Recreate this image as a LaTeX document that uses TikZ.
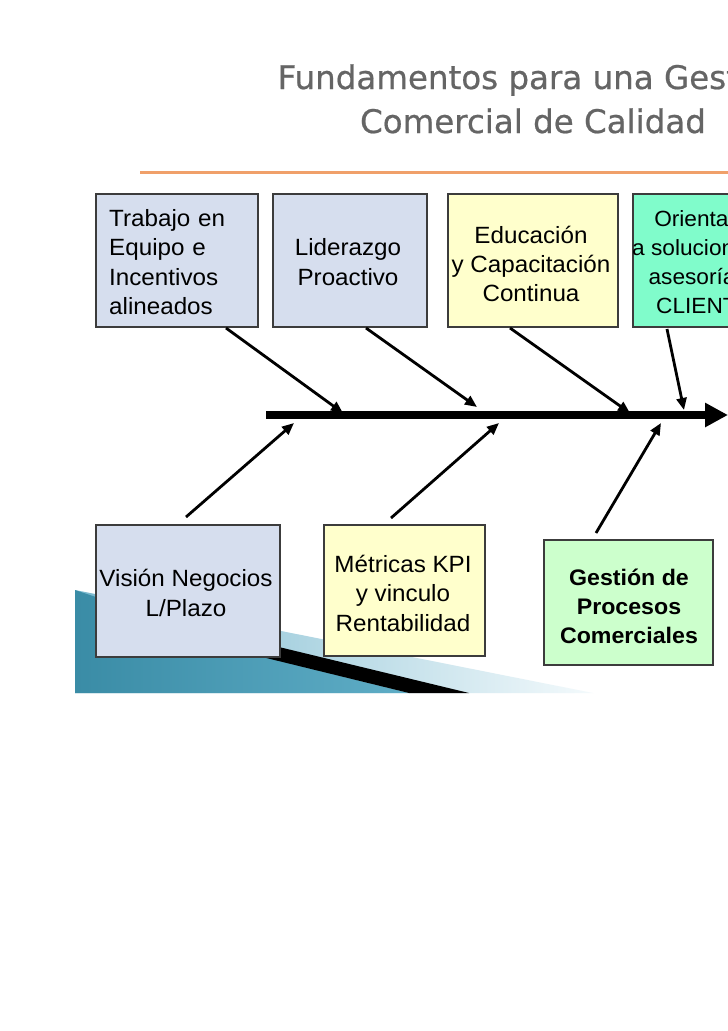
\documentclass[tikz,border=0pt]{standalone}
\usepackage{fontspec}
\setmainfont{Liberation Sans}
\newfontfamily\boxfont[FakeStretch=1.03]{Liberation Sans}
\newfontfamily\titlefont[FakeBold=0.6]{DejaVu Sans}
\usetikzlibrary{arrows.meta}
\definecolor{boxblue}{HTML}{D6DEEE}
\definecolor{boxyellow}{HTML}{FFFFCC}
\definecolor{boxaqua}{HTML}{80FCCB}
\definecolor{boxgreen}{HTML}{CCFFCC}
\definecolor{boxline}{HTML}{3C3C3C}
\definecolor{titlegray}{HTML}{656565}
\definecolor{ruleorange}{HTML}{F0A06A}
\definecolor{tealdark}{HTML}{3A8CA6}
\definecolor{tealmid}{HTML}{5FADC6}
\definecolor{teallight}{HTML}{78B8CE}
\definecolor{tealpale}{HTML}{F4FAFC}
\begin{document}
\begin{tikzpicture}[x=1pt,y=-1pt,
  box/.style={draw=boxline, line width=1.1pt, inner sep=0pt},
  toptext/.style={inner sep=0pt, font=\boxfont\fontsize{23.5}{29.2}\selectfont},
  bottext/.style={inner sep=0pt, font=\boxfont\fontsize{23.5}{29.5}\selectfont},
  conn/.style={line width=2.8pt, -{Triangle[length=12pt,width=10pt]}},
  titletext/.style={inner sep=0pt, text=titlegray, font=\titlefont\fontsize{32.5}{41}\selectfont}
]
\useasboundingbox (0,0) rectangle (728,1031);
\clip (0,0) rectangle (728,1031);
\fill[white] (0,0) rectangle (728,1031);

% title
\node[titletext, anchor=base] (title1) at (533,89) {Fundamentos para una Gestión};
\node[titletext, anchor=base] (title2) at (533,133) {Comercial de Calidad};
\coordinate (rule1) at (140,172.5);
\coordinate (rule2) at (740,172.5);
\draw[ruleorange, line width=2.2pt] (rule1) -- (rule2);

% background sweep
\shade[left color=teallight, right color=tealpale] (75,590) -- (593,693) -- (75,693) -- cycle;
\shade[left color=tealdark, right color=tealmid] (75,590) -- (96,597) -- (280,661) -- (409,693) -- (75,693) -- cycle;
\fill[black] (250,640) -- (469,693) -- (409,693) -- (250,654) -- cycle;

% top boxes
\node[box, fill=boxblue, minimum width=162pt, minimum height=133pt] (trabajo) at (177,260.5) {};
\node[box, fill=boxblue, minimum width=154pt, minimum height=133pt] (liderazgo) at (350,260.5) {};
\node[box, fill=boxyellow, minimum width=170pt, minimum height=133pt] (educacion) at (533,260.5) {};
\node[box, fill=boxaqua, minimum width=170pt, minimum height=133pt] (orientacion) at (718,260.5) {};

\node[toptext, text width=140pt, align=left, anchor=west] (trabajoT) at (109,262) {Trabajo en\\Equipo e\\Incentivos\\alineados};
\node[toptext, align=center] (liderazgoT) at (348,262) {Liderazgo\\Proactivo};
\node[toptext, align=center] (educacionT) at (531,264) {Educación\\y Capacitación\\Continua};
\node[inner sep=0pt, font=\boxfont\fontsize{22}{29}\selectfont, align=center] (orientacionT) at (704,262) {Orientada\\a soluciones y\\asesoría al\\CLIENTE};

% bottom boxes
\node[box, fill=boxblue, minimum width=184pt, minimum height=132pt] (vision) at (188,591) {};
\node[box, fill=boxyellow, minimum width=161pt, minimum height=131pt] (metricas) at (404.5,590.5) {};
\node[box, fill=boxgreen, minimum width=169pt, minimum height=125pt] (gestion) at (628.5,602.5) {};

\node[bottext, align=center] (visionT) at (186,593) {Visión Negocios\\L/Plazo};
\node[bottext, align=center] (metricasT) at (403,593) {Métricas KPI\\y vinculo\\Rentabilidad};
\node[bottext, align=center, font=\boxfont\bfseries\fontsize{22.5}{29}\selectfont] (gestionT) at (629,606) {Gestión de\\Procesos\\Comerciales};

% spine
\coordinate (spineS) at (266,415);
\coordinate (spineE) at (728,415);
\draw[line width=8pt, -{Triangle[length=23pt,width=23pt]}] (spineS) -- (spineE);

% connectors
\coordinate (t1s) at (226,328); \coordinate (t1e) at (343,413);
\coordinate (t2s) at (366,328); \coordinate (t2e) at (477,407);
\coordinate (t3s) at (510,328); \coordinate (t3e) at (630,413);
\coordinate (t4s) at (667,329); \coordinate (t4e) at (684,410);
\coordinate (b1s) at (186,517); \coordinate (b1e) at (294,423);
\coordinate (b2s) at (391,518); \coordinate (b2e) at (499,423);
\coordinate (b3s) at (596,533); \coordinate (b3e) at (661,423);
\foreach \a in {t1,t2,t3,t4,b1,b2,b3} {\draw[conn] (\a s) -- (\a e);}
\end{tikzpicture}
\end{document}
